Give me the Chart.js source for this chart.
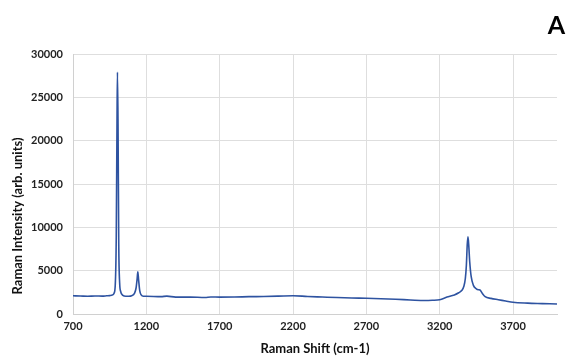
<!DOCTYPE html>
<html>
<head>
<meta charset="utf-8">
<script src="https://cdn.jsdelivr.net/npm/chart.js@4.4.1/dist/chart.umd.min.js"></script>
<style>
  html, body { margin: 0; padding: 0; background: #ffffff; }
  #wrap { width: 567px; height: 357px; position: relative; }
</style>
</head>
<body>
<div id="wrap"><canvas id="c" width="567" height="357"></canvas></div>
<script>
// ---- Data ----
const ramanShift = [
  700, 750, 800, 850, 900, 930, 950, 970, 980, 988, 995, 1000, 1003, 1007, 1012, 1018, 1025, 1040, 1060, 1080,
  1100, 1120, 1130, 1137, 1142, 1147, 1155, 1165, 1180, 1200, 1300, 1340, 1400, 1500, 1600, 1640, 1700, 1800,
  1900, 2000, 2100, 2200, 2300, 2400, 2500, 2600, 2700, 2800, 2900, 3000, 3100, 3150, 3200, 3250, 3280, 3300,
  3330, 3350, 3365, 3375, 3382, 3388, 3393, 3398, 3405, 3415, 3430, 3450, 3465, 3475, 3490, 3510, 3550, 3600,
  3650, 3700, 3800, 3900, 4000
];
const intensity = [
  2100, 2080, 2050, 2080, 2060, 2100, 2120, 2200, 2400, 3300, 9000, 22000, 27900, 22000, 8000, 3600, 2600, 2150, 2050, 2050,
  2100, 2400, 3000, 4000, 4880, 4000, 2700, 2200, 2050, 2050, 2000, 2060, 1950, 1950, 1900, 1960, 1950, 1960,
  2000, 2020, 2060, 2110, 2020, 1960, 1900, 1850, 1810, 1760, 1700, 1620, 1550, 1580, 1650, 1950, 2100, 2200,
  2450, 2700, 3200, 4100, 5600, 8000, 8920, 8000, 6000, 4300, 3300, 2900, 2800, 2770, 2400, 2000, 1800, 1650,
  1500, 1350, 1250, 1200, 1150
];
const xTicks = [700, 1200, 1700, 2200, 2700, 3200, 3700];
const yTicks = [0, 5000, 10000, 15000, 20000, 25000, 30000];
const xTitle = 'Raman Shift (cm-1)';
const yTitle = 'Raman Intensity (arb. units)';
const panelLabel = 'A';

const points = ramanShift.map((x, i) => ({ x: x, y: intensity[i] }));
const FONT = 'Lato, "Open Sans", "Liberation Sans", sans-serif';

const labelsPlugin = {
  id: 'extraLabels',
  afterDraw(chart) {
    const ctx = chart.ctx;
    ctx.save();
    ctx.font = 'bold 25px ' + FONT;
    ctx.fillStyle = '#000000';
    ctx.textAlign = 'right';
    ctx.textBaseline = 'middle';
    ctx.fillText(panelLabel, 565, 26);
    ctx.restore();

    ctx.save();
    ctx.translate(18, 216);
    ctx.rotate(-Math.PI / 2);
    ctx.font = 'bold 13px ' + FONT;
    ctx.fillStyle = '#111111';
    ctx.textAlign = 'center';
    ctx.textBaseline = 'middle';
    ctx.fillText(yTitle, 0, 0);
    ctx.restore();
  }
};

new Chart(document.getElementById('c'), {
  type: 'line',
  data: {
    datasets: [{
      data: points,
      borderColor: '#2E53A1',
      borderWidth: 1.6,
      pointRadius: 0,
      fill: false,
      cubicInterpolationMode: 'monotone'
    }]
  },
  options: {
    responsive: false,
    animation: false,
    devicePixelRatio: 1,
    layout: { padding: { left: 0, right: 10, top: 54, bottom: 0 } },
    plugins: { legend: { display: false }, tooltip: { enabled: false } },
    scales: {
      x: {
        type: 'linear',
        min: 700,
        max: 4000,
        afterBuildTicks(scale) { scale.ticks = xTicks.map(v => ({ value: v })); },
        afterFit(scale) { scale.height = 43; },
        grid: { color: '#dedede', lineWidth: 1, drawTicks: false },
        border: { color: '#d0d0d0' },
        ticks: { color: '#222', font: { family: FONT, size: 11, weight: 'bold' }, padding: 6, maxRotation: 0, autoSkip: false,
                 callback: v => String(v) },
        title: { display: true, text: xTitle, color: '#111', font: { family: FONT, size: 13, weight: 'bold' }, padding: { top: 3, bottom: 0 } }
      },
      y: {
        min: 0,
        max: 30000,
        afterBuildTicks(scale) { scale.ticks = yTicks.map(v => ({ value: v })); },
        afterFit(scale) { scale.width = 73; },
        grid: { color: '#dedede', lineWidth: 1, drawTicks: false },
        border: { color: '#d0d0d0' },
        ticks: { color: '#222', font: { family: FONT, size: 11, weight: 'bold' }, padding: 10,
                 callback: v => String(v) },
        title: { display: false }
      }
    }
  },
  plugins: [labelsPlugin]
});
</script>
</body>
</html>
